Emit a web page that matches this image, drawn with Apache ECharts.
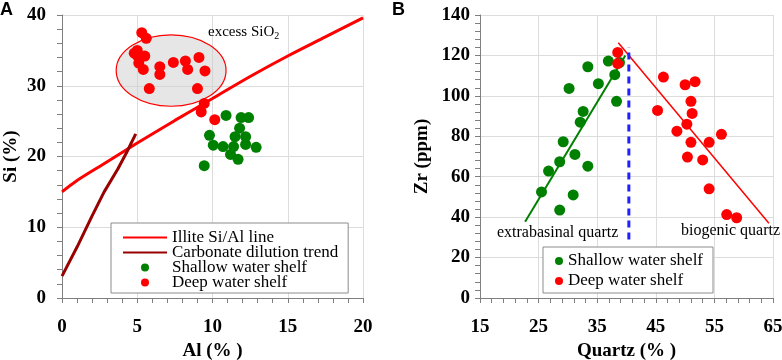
<!DOCTYPE html>
<html>
<head>
<meta charset="utf-8">
<script src="https://cdn.jsdelivr.net/npm/echarts@6/dist/echarts.min.js"></script>
<style>
  html, body { margin: 0; padding: 0; background: #fff; }
  #main { width: 782px; height: 360px; }
</style>
</head>
<body>
<div id="main"></div>
<script>
// panel A : Si vs Al
const illiteLine = [[0, 15], [1, 16.6], [2.5, 18.6], [5, 21.9], [7.5, 25.1], [10, 28.2], [12.5, 31.3], [15, 34.2], [17.5, 36.9], [20, 39.6]]
const carbonateLine = [[0, 3.1], [1, 7.2], [2, 11.6], [2.8, 15], [3.7, 18.2], [4.3, 20.6], [4.9, 23.2]]
const deepA = [[5.3, 37.5], [5.6, 36.7], [5.0, 35.0], [4.8, 34.6], [5.0, 34.3], [5.5, 34.2], [5.1, 33.2], [5.4, 32.3], [5.8, 29.6],
  [6.5, 32.7], [6.5, 31.6], [7.4, 33.3], [8.2, 33.5], [8.35, 32.3], [9.1, 34.0], [9.5, 32.1], [9.0, 29.6],
  [9.45, 27.5], [9.25, 26.3], [10.15, 25.2]]
const shallowA = [[10.9, 25.8], [11.9, 25.5], [12.4, 25.5], [11.8, 24.0], [9.8, 23.0], [11.5, 22.8], [12.2, 22.8], [10.05, 21.6],
  [10.7, 21.4], [11.4, 21.4], [12.2, 21.7], [12.9, 21.3], [11.2, 20.3], [11.7, 19.6], [9.45, 18.7]]

// panel B : Zr vs quartz
const shallowB = [[36.9, 117.2], [38.8, 116.5], [33.4, 114.4], [30.2, 103.7], [35.2, 106.0], [38.0, 110.5], [38.3, 97.3], [32.6, 92.3],
  [32.1, 87.0], [29.2, 77.3], [31.2, 71.0], [28.6, 67.4], [33.4, 65.2], [26.7, 62.8], [25.5, 52.5], [30.9, 51.0], [28.6, 43.5]]
const deepB = [[38.5, 121.5], [38.5, 116.0], [46.3, 109.3], [45.3, 92.8], [48.6, 82.5], [50.0, 105.5], [51.7, 107.0], [51.0, 97.3],
  [51.2, 91.3], [50.3, 86.0], [51.0, 77.0], [54.1, 77.0], [56.2, 81.0], [50.4, 69.7], [53.0, 68.3], [54.1, 54.0], [57.1, 41.3], [58.8, 39.7]]
const extraTrend = [[22.7, 37.7], [39.8, 120]]
const bioTrend = [[38.6, 126.3], [64.3, 37]]
const divider = [[40.4, 29], [40.4, 124]]

const ellipseBox = [[3.6, 27.1], [10.9, 37.2]]   // al/si extent of the excess SiO2 ellipse

const serif = 'Liberation Serif'
const RED = '#ff0000', GREEN = '#008000'

const chart = echarts.init(document.getElementById('main'))

function axisCommon(min, max, interval) {
  return {
    type: 'value', min: min, max: max, interval: interval,
    axisLine: { show: true, onZero: false, lineStyle: { color: '#7f7f7f' } },
    axisTick: { show: true, length: 5, lineStyle: { color: '#7f7f7f' } },
    minorTick: { show: true, splitNumber: 5, length: 5, lineStyle: { color: '#7f7f7f' } },
    splitLine: { show: true, lineStyle: { color: '#dcdcdc' } },
    axisLabel: { color: '#000', fontFamily: serif, fontWeight: 'bold', fontSize: 19 },
    nameLocation: 'middle',
    nameTextStyle: { color: '#000', fontFamily: serif, fontWeight: 'bold', fontSize: 19 }
  }
}

const noDot = { opacity: 0 }

const option = {
  animation: false,
  grid: [
    { left: 62, right: 419, top: 15, bottom: 62, containLabel: false, outerBoundsMode: 'none' },
    { left: 480, right: 9, top: 15, bottom: 62, containLabel: false, outerBoundsMode: 'none' }
  ],
  xAxis: [
    echarts.util.merge(axisCommon(0, 20, 5), { gridIndex: 0, name: 'Al (% )', nameGap: 44, axisLabel: { margin: 20 } }),
    echarts.util.merge(axisCommon(15, 65, 10), { gridIndex: 1, name: 'Quartz (% )', nameGap: 44, axisLabel: { margin: 20 } })
  ],
  yAxis: [
    echarts.util.merge(axisCommon(0, 40, 10), { gridIndex: 0, name: 'Si (%)', nameGap: 41, axisLabel: { margin: 16 } }),
    echarts.util.merge(axisCommon(0, 140, 20), { gridIndex: 1, name: 'Zr (ppm)', nameGap: 48, axisLabel: { margin: 10 } })
  ],
  legend: [
    {
      left: 111, top: 223, orient: 'vertical',
      backgroundColor: '#fff', borderColor: '#8c8c8c', borderWidth: 1,
      padding: [6, 10, 2, 11], itemGap: -2, itemWidth: 44, itemHeight: 8, itemTextGap: 4,
      textStyle: { fontFamily: serif, fontSize: 17, color: '#000', lineHeight: 15 },
      data: [
        { name: 'Illite Si/Al line', itemStyle: noDot },
        { name: 'Carbonate dilution trend', itemStyle: noDot },
        { name: 'Shallow water shelf', icon: 'circle' },
        { name: 'Deep water shelf', icon: 'circle' }
      ]
    },
    {
      left: 543, top: 247, orient: 'vertical',
      backgroundColor: '#fff', borderColor: '#8c8c8c', borderWidth: 1,
      padding: [4, 10, 2, 12], itemGap: 0, itemWidth: 8, itemHeight: 8, itemTextGap: 7,
      textStyle: { fontFamily: serif, fontSize: 17, color: '#000', lineHeight: 20 },
      data: [
        { name: 'Shallow water shelf', icon: 'circle' },
        { name: 'Deep water shelf', icon: 'circle' }
      ]
    }
  ],
  series: [
    {
      name: 'Illite Si/Al line', type: 'line', xAxisIndex: 0, yAxisIndex: 0,
      data: illiteLine, showSymbol: false, symbol: 'none', smooth: 0.3,
      lineStyle: { color: RED, width: 3 }, itemStyle: { color: RED }, z: 3
    },
    {
      name: 'Carbonate dilution trend', type: 'line', xAxisIndex: 0, yAxisIndex: 0,
      data: carbonateLine, showSymbol: false, symbol: 'none',
      lineStyle: { color: '#990000', width: 3 }, itemStyle: { color: '#990000' }, z: 3
    },
    {
      name: 'Shallow water shelf', type: 'scatter', xAxisIndex: 0, yAxisIndex: 0,
      data: shallowA, symbolSize: 11, itemStyle: { color: GREEN, opacity: 1 }, z: 4
    },
    {
      name: 'Deep water shelf', type: 'scatter', xAxisIndex: 0, yAxisIndex: 0,
      data: deepA, symbolSize: 11, itemStyle: { color: RED, opacity: 1 }, z: 4
    },
    {
      name: 'extrabasinal trend', type: 'line', xAxisIndex: 1, yAxisIndex: 1,
      data: extraTrend, showSymbol: false, symbol: 'none',
      lineStyle: { color: GREEN, width: 2 }, z: 3
    },
    {
      name: 'biogenic trend', type: 'line', xAxisIndex: 1, yAxisIndex: 1,
      data: bioTrend, showSymbol: false, symbol: 'none',
      lineStyle: { color: RED, width: 1.5 }, z: 3
    },
    {
      name: 'divide', type: 'line', xAxisIndex: 1, yAxisIndex: 1,
      data: divider, showSymbol: false, symbol: 'none',
      lineStyle: { color: '#1f1fff', width: 3, type: [7, 5] }, z: 3
    },
    {
      name: 'Shallow water shelf', type: 'scatter', xAxisIndex: 1, yAxisIndex: 1,
      data: shallowB, symbolSize: 11, itemStyle: { color: GREEN, opacity: 1 }, z: 4
    },
    {
      name: 'Deep water shelf', type: 'scatter', xAxisIndex: 1, yAxisIndex: 1,
      data: deepB, symbolSize: 11, itemStyle: { color: RED, opacity: 1 }, z: 5
    }
  ]
}
chart.setOption(option)

// annotations placed through the axes
const pA = (pt) => chart.convertToPixel({ gridIndex: 0 }, pt)
const pB = (pt) => chart.convertToPixel({ gridIndex: 1 }, pt)
const e0 = pA(ellipseBox[0]), e1 = pA(ellipseBox[1])
const excess = pA([9.7, 37.6])
const extra = pB([17.9, 32.3])
const bio = pB([66.2, 33.3])

chart.setOption({
  graphic: [
    {
      type: 'ellipse', z: 1,
      shape: { cx: (e0[0] + e1[0]) / 2, cy: (e0[1] + e1[1]) / 2, rx: (e1[0] - e0[0]) / 2, ry: (e0[1] - e1[1]) / 2 },
      style: { fill: 'rgba(205,205,205,0.5)', stroke: RED, lineWidth: 1.2 }
    },
    {
      type: 'text', z: 10, x: excess[0], y: excess[1],
      style: {
        text: '{n|excess SiO}{s|2}', verticalAlign: 'middle', align: 'left',
        rich: {
          n: { fontFamily: serif, fontSize: 15, fill: '#000', lineHeight: 18 },
          s: { fontFamily: serif, fontSize: 10, fill: '#000', lineHeight: 18, padding: [8, 0, 0, 0] }
        }
      }
    },
    {
      type: 'text', z: 10, x: extra[0], y: extra[1],
      style: { text: 'extrabasinal quartz', fontFamily: serif, fontSize: 16, fill: '#000', verticalAlign: 'middle', align: 'left' }
    },
    {
      type: 'text', z: 10, x: bio[0], y: bio[1],
      style: { text: 'biogenic quartz', fontFamily: serif, fontSize: 16, fill: '#000', verticalAlign: 'middle', align: 'right' }
    },
    {
      type: 'text', z: 10, left: 0, top: 1,
      style: { text: 'A', fontFamily: 'Liberation Sans', fontWeight: 'bold', fontSize: 18, fill: '#000' }
    },
    {
      type: 'text', z: 10, left: 392, top: 1,
      style: { text: 'B', fontFamily: 'Liberation Sans', fontWeight: 'bold', fontSize: 18, fill: '#000' }
    }
  ]
})
</script>
</body>
</html>
